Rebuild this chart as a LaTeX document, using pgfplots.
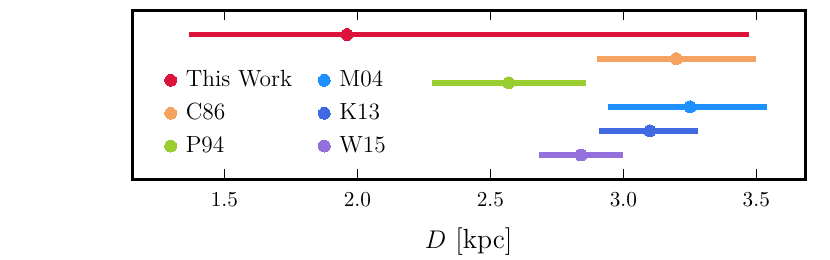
\documentclass[border=0pt]{standalone}
\usepackage{pgfplots}
\pgfplotsset{compat=1.18}
\definecolor{crimson}{RGB}{220,20,60}
\definecolor{sandybrown}{RGB}{244,164,96}
\definecolor{yellowgreen}{RGB}{154,205,50}
\definecolor{dodgerblue}{RGB}{30,144,255}
\definecolor{royalblue}{RGB}{65,105,225}
\definecolor{mediumpurple}{RGB}{147,112,219}
\pgfplotsset{
  dpt/.style={only marks, mark=*, mark size=2.8pt, color=#1, mark options={draw=#1, fill=#1, line width=0pt},
    error bars/.cd, x dir=both, x explicit, error mark=none,
    error bar style={line width=2.8pt, color=#1}},
}
\begin{document}
\begin{tikzpicture}
\begin{axis}[
  name=ax,
  scale only axis,
  width=316.2pt, height=79.3pt,
  xmin=1.154, xmax=3.683,
  ymin=0, ymax=7,
  xtick={1.5,2.0,2.5,3.0,3.5},
  xticklabel style={yshift=-3pt, /pgf/number format/.cd, fixed, fixed zerofill, precision=1},
  ytick=\empty,
  tick align=inside,
  major tick length=4.7pt,
  every tick/.style={black, line width=0.6pt},
  axis line style={line width=1.4pt},
  tick label style={font=\fontsize{10}{12}\selectfont},
  xlabel={$D$ [kpc]},
  xlabel style={font=\fontsize{13}{15}\selectfont, yshift=-3pt},
  legend columns=2,
  legend cell align=left,
  legend image code/.code={\draw[#1] plot coordinates {(0pt,0pt)};},
  legend style={draw=none, fill=none, at={(0.038,0.69)}, anchor=north west,
    font=\fontsize{11}{13}\selectfont, row sep=3.3pt,
    /tikz/every odd column/.append style={column sep=2.8pt},
    /tikz/every even column/.append style={column sep=10.8pt},
    nodes={inner sep=1.5pt}},
]
\addplot[dpt=crimson] coordinates {(1.961,6) += (1.513,0) -= (0.594,0)};
\addlegendentry{This Work}
\addplot[dpt=dodgerblue] coordinates {(3.251,3) += (0.289,0) -= (0.310,0)};
\addlegendentry{M04}
\addplot[dpt=sandybrown] coordinates {(3.199,5) += (0.301,0) -= (0.298,0)};
\addlegendentry{C86}
\addplot[dpt=royalblue] coordinates {(3.100,2) += (0.180,0) -= (0.193,0)};
\addlegendentry{K13}
\addplot[dpt=yellowgreen] coordinates {(2.569,4) += (0.292,0) -= (0.288,0)};
\addlegendentry{P94}
\addplot[dpt=mediumpurple] coordinates {(2.841,1) += (0.159,0) -= (0.159,0)};
\addlegendentry{W15}
\end{axis}
\pgfresetboundingbox
\path[use as bounding box] ([xshift=-62.2pt, yshift=-37.9pt]ax.south west) rectangle ([xshift=11.75pt, yshift=4.9pt]ax.north east);
\end{tikzpicture}
\end{document}
